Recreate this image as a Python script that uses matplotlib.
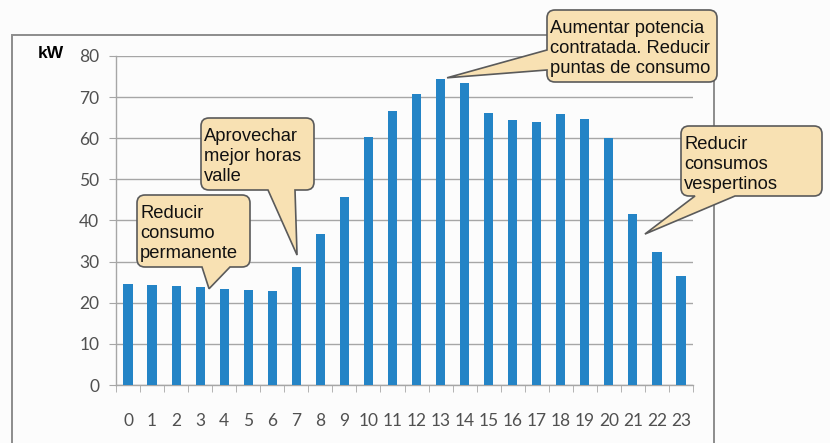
import matplotlib.pyplot as plt
from matplotlib.path import Path
from matplotlib.patches import PathPatch, Rectangle
import numpy as np

# hourly demand (kW)
hours = list(range(24))
kw = [24.6, 24.4, 24.0, 23.8, 23.3, 23.0, 22.8, 28.6, 36.6, 45.6, 60.3, 66.6,
      70.8, 74.3, 73.4, 66.2, 64.5, 64.0, 66.0, 64.6, 60.0, 41.5, 32.3, 26.6]
yticks = [0, 10, 20, 30, 40, 50, 60, 70, 80]

# callouts: text, box in pixels (left, top, right, bottom), tip in data coords, side of pointer
notes = ["Reducir\nconsumo\npermanente",
         "Aprovechar\nmejor horas\nvalle",
         "Aumentar potencia\ncontratada. Reducir\npuntas de consumo",
         "Reducir\nconsumos\nvespertinos"]
boxes = [(137, 195, 250, 267), (201, 118, 314, 190), (547, 10, 717, 82), (681, 126, 822, 196)]
tips = [(3.37, 23.4), (7.03, 31.6), (13.27, 74.7), (21.5, 36.7)]
bases = [("bottom", 202, 230), ("bottom", 268, 295), ("left", 50, 70), ("bottom", 695, 735)]

W, H = 830, 443
fig = plt.figure(figsize=(8.3, 4.43), dpi=100)
fig.patch.set_facecolor('#fcfcfc')

# outer chart frame
fig.add_artist(Rectangle((12 / W, -0.05), (714 - 12) / W, 1.05 - 35 / H,
                         transform=fig.transFigure, fill=False, ec='#8c8c8c', lw=1.4))

ax = fig.add_axes([116 / W, 1 - 385 / H, (693 - 116) / W, (385 - 56) / H])
ax.set_facecolor('none')
ax.bar(hours, kw, width=0.38, color='#2484c6', zorder=3)
ax.set_xlim(-0.5, 23.5)
ax.set_ylim(0, 80)
ax.set_yticks(yticks)
ax.set_xticks(hours)
ax.set_xticks(np.arange(-0.5, 24, 1), minor=True)
ax.grid(axis='y', color='#a6a6a6', lw=1.0, zorder=0)
for s in ['top', 'right']:
    ax.spines[s].set_visible(False)
for s in ['left', 'bottom']:
    ax.spines[s].set_color('#a6a6a6')
    ax.spines[s].set_linewidth(1.0)
ax.tick_params(axis='y', length=5, color='#a6a6a6', pad=7, labelsize=12.5,
               labelcolor='#505050', labelfontfamily='Lato')
ax.tick_params(axis='x', which='major', length=0, pad=20, labelsize=12.5,
               labelcolor='#505050', labelfontfamily='Lato')
ax.tick_params(axis='x', which='minor', length=5, color='#a6a6a6')

fig.text(38 / W, 1 - 53 / H, 'kW', fontsize=12.5, fontweight='bold', va='center',
         family='Liberation Sans')


def to_fig(px, py):
    return px / W, 1 - py / H


def callout(text, box, tip, base):
    l, t, r, b = box
    rad = 8
    tx, ty = fig.transFigure.inverted().transform(ax.transData.transform(tip))
    tpx, tpy = tx * W, (1 - ty) * H
    C3 = Path.CURVE3
    pts, codes = [], []

    def mv(x, y, c=Path.LINETO):
        pts.append((x, y))
        codes.append(c)

    mv(l + rad, t, Path.MOVETO)
    mv(r - rad, t)
    mv(r, t, C3); mv(r, t + rad, C3)
    mv(r, b - rad)
    mv(r, b, C3); mv(r - rad, b, C3)
    if base[0] == "bottom":
        mv(base[2], b)
        mv(tpx, tpy)
        mv(base[1], b)
    mv(l + rad, b)
    mv(l, b, C3); mv(l, b - rad, C3)
    if base[0] == "left":
        mv(l, base[2])
        mv(tpx, tpy)
        mv(l, base[1])
    mv(l, t + rad)
    mv(l, t, C3); mv(l + rad, t, C3)
    mv(l + rad, t, Path.CLOSEPOLY)
    verts = [to_fig(x, y) for x, y in pts]
    patch = PathPatch(Path(verts, codes), transform=fig.transFigure,
                      fc='#f8e1b3', ec='#5a5a5a', lw=1.2, zorder=10)
    fig.add_artist(patch)
    fig.text((l + 3) / W, 1 - (t + 10) / H, text, fontsize=13.2, va='top', ha='left',
             family='Liberation Sans', color='#111111', linespacing=1.22, zorder=11)


for n, bx, tp, bs in zip(notes, boxes, tips, bases):
    callout(n, bx, tp, bs)

fig.savefig('out.png', dpi=100, facecolor=fig.get_facecolor())
